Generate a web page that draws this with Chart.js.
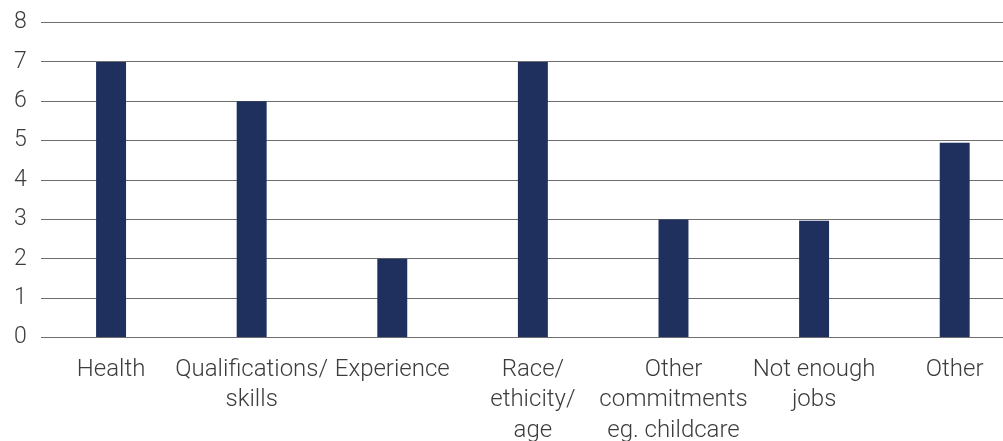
<!DOCTYPE html>
<html>
<head>
<meta charset="utf-8">
<script src="https://cdn.jsdelivr.net/npm/chart.js@4/dist/chart.umd.min.js"></script>
<style>
  html, body { margin: 0; padding: 0; background: #fff; overflow: hidden; }
  /* canvas is wider than the page so the last category runs off the right edge */
  #wrap { width: 1025px; height: 441px; position: relative; }
</style>
</head>
<body>
<div id="wrap"><canvas id="barrierChart"></canvas></div>
<script>
const categories = [
  ["Health"],
  ["Qualifications/", "skills"],
  ["Experience"],
  ["Race/", "ethicity/", "age"],
  ["Other", "commitments", "eg. childcare"],
  ["Not enough", "jobs"],
  ["Other"]
];
const counts = [7, 6, 2, 7, 3, 2.97, 4.95];
const yTicks = [0, 1, 2, 3, 4, 5, 6, 7, 8];

document.addEventListener("DOMContentLoaded", () => {
  const ctx = document.getElementById("barrierChart").getContext("2d");
  new Chart(ctx, {
    type: "bar",
    data: {
      labels: categories,
      datasets: [
        { label: "Responses", data: counts, backgroundColor: "#1f2f5e", barPercentage: 0.213, categoryPercentage: 1 }
      ]
    },
    options: {
      responsive: true,
      maintainAspectRatio: false,
      animation: false,
      layout: { padding: { left: 0, right: 0, top: 0, bottom: -22 } },
      plugins: { legend: { display: false }, tooltip: { enabled: false } },
      scales: {
        x: {
          grid: { display: false, drawTicks: false },
          border: { display: false },
          ticks: {
            color: "#3c3c3c",
            font: { family: "Roboto", size: 24, weight: 300, lineHeight: 1.27 },
            maxRotation: 0, autoSkip: false, padding: 17
          }
        },
        y: {
          min: 0, max: 8,
          afterBuildTicks: axis => { axis.ticks = yTicks.map(v => ({ value: v })); },
          grid: { color: "#6e6e6e", lineWidth: 1, drawTicks: false },
          border: { display: false },
          ticks: {
            color: "#3c3c3c",
            font: { family: "Roboto", size: 23, weight: 300, lineHeight: 0.75 },
            padding: 14
          }
        }
      }
    }
  });
});
</script>
</body>
</html>
